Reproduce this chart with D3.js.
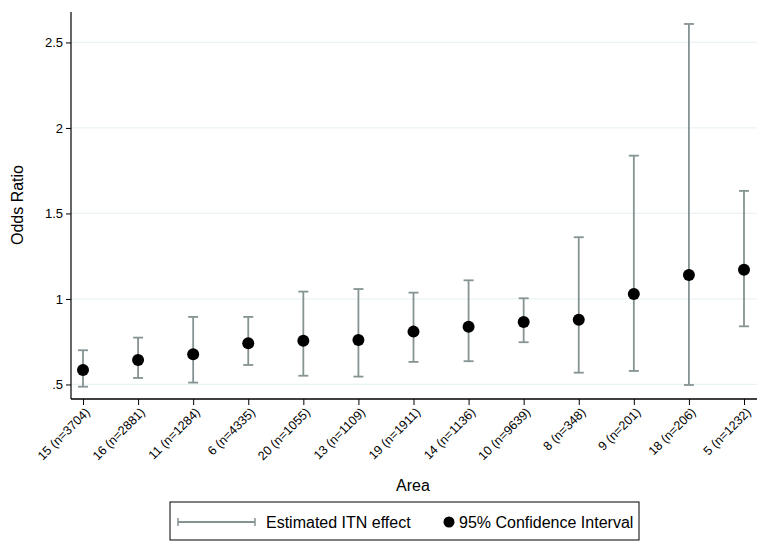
<!DOCTYPE html>
<html><head><meta charset="utf-8">
<script src="https://cdn.jsdelivr.net/npm/d3@7"></script>
<style>body{margin:0;background:#fff}svg{display:block}svg text{font-family:"Liberation Sans",Arial,Helvetica,sans-serif}</style>
</head><body><svg id="c" width="766" height="552"></svg>
<script>
const categories = ["15 (n=3704)","16 (n=2881)","11 (n=1284)","6 (n=4335)","20 (n=1055)","13 (n=1109)","19 (n=1911)","14 (n=1136)","10 (n=9639)","8 (n=348)","9 (n=201)","18 (n=206)","5 (n=1232)"];
const estimate = [0.585,0.643,0.677,0.741,0.756,0.760,0.809,0.838,0.865,0.879,1.029,1.140,1.171];
const lower    = [0.487,0.538,0.511,0.614,0.551,0.546,0.632,0.636,0.747,0.569,0.579,0.497,0.840];
const upper    = [0.700,0.774,0.895,0.895,1.043,1.058,1.037,1.109,1.004,1.361,1.838,2.608,1.632];
const yTicks = [0.5,1,1.5,2,2.5];
const yTickLabels = [".5","1","1.5","2","2.5"];

const svg = d3.select("#c");
const x = d3.scalePoint().domain(categories).range([83,744]);
const y = d3.scaleLinear().domain([0.415,2.678]).range([399,12]);
const barColor = "#869393";

// gridlines
svg.append("g").selectAll("line").data(yTicks).join("line")
  .attr("x1",72).attr("x2",757).attr("y1",d=>y(d)).attr("y2",d=>y(d))
  .attr("stroke","#eaf3f3").attr("stroke-width",1.2);

// error bars
const eb = svg.append("g").selectAll("g").data(categories).join("g");
eb.append("line").attr("x1",d=>x(d)).attr("x2",d=>x(d))
  .attr("y1",(d,i)=>y(lower[i])).attr("y2",(d,i)=>y(upper[i]))
  .attr("stroke",barColor).attr("stroke-width",1.8);
eb.append("line").attr("x1",d=>x(d)-5).attr("x2",d=>x(d)+5)
  .attr("y1",(d,i)=>y(upper[i])).attr("y2",(d,i)=>y(upper[i]))
  .attr("stroke",barColor).attr("stroke-width",1.8);
eb.append("line").attr("x1",d=>x(d)-5).attr("x2",d=>x(d)+5)
  .attr("y1",(d,i)=>y(lower[i])).attr("y2",(d,i)=>y(lower[i]))
  .attr("stroke",barColor).attr("stroke-width",1.8);
eb.append("circle").attr("cx",d=>x(d)).attr("cy",(d,i)=>y(estimate[i]))
  .attr("r",6).attr("fill","#000");

// y axis
const yAxis = d3.axisLeft(y).tickValues(yTicks).tickFormat((d,i)=>yTickLabels[i]).tickSize(5).tickPadding(3);
const gy = svg.append("g").attr("transform","translate(71,0)").call(yAxis);
gy.attr("font-family",null);
gy.select(".domain").attr("d","M0,12V399").attr("stroke","#000").attr("stroke-width",1.2);
gy.selectAll("text").attr("font-size",13).attr("fill","#000");

// x axis
const xAxis = d3.axisBottom(x).tickSize(6).tickSizeOuter(0);
const gx = svg.append("g").attr("transform","translate(0,399)").call(xAxis);
gx.attr("font-family",null);
gx.select(".domain").attr("d","M71,0H757").attr("stroke","#000").attr("stroke-width",1.4);
gx.selectAll("text").attr("font-size",12.5).attr("fill","#000")
  .attr("text-anchor","end").attr("dy","0.35em")
  .attr("transform","translate(4,11) rotate(-45)").attr("y",0).attr("x",0);

// axis titles
svg.append("text").attr("x",413).attr("y",491).attr("text-anchor","middle")
  .attr("font-size",16).text("Area");
svg.append("text").attr("transform","translate(23,205) rotate(-90)").attr("text-anchor","middle")
  .attr("font-size",16).text("Odds Ratio");

// legend
const lg = svg.append("g");
lg.append("rect").attr("x",170).attr("y",502).attr("width",469).attr("height",38)
  .attr("fill","#fff").attr("stroke","#000").attr("stroke-width",1);
lg.append("line").attr("x1",178).attr("x2",255).attr("y1",522).attr("y2",522).attr("stroke",barColor).attr("stroke-width",1.8);
lg.append("line").attr("x1",178).attr("x2",178).attr("y1",518).attr("y2",526).attr("stroke",barColor).attr("stroke-width",1.5);
lg.append("line").attr("x1",255).attr("x2",255).attr("y1",518).attr("y2",526).attr("stroke",barColor).attr("stroke-width",1.5);
lg.append("text").attr("x",266).attr("y",528).attr("font-size",16).text("Estimated ITN effect");
lg.append("circle").attr("cx",449).attr("cy",522).attr("r",5.5).attr("fill","#000");
lg.append("text").attr("x",459).attr("y",528).attr("font-size",16).text("95% Confidence Interval");
</script></body></html>
